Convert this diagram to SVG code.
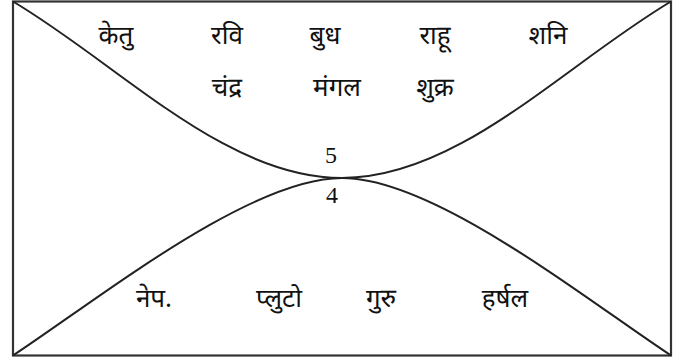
<svg xmlns="http://www.w3.org/2000/svg" width="686" height="361" viewBox="0 0 686 361">
<style>
.frame{fill:#fff;stroke:#333;stroke-width:2.2}
.curve{fill:none;stroke:#222;stroke-width:2}
.dev{font-family:"Noto Sans Devanagari","Lohit Devanagari","Noto Sans","Liberation Sans",sans-serif;font-size:26px;fill:#111;text-anchor:middle}
.num{font-family:"Liberation Serif",serif;font-size:24px;fill:#111;text-anchor:middle}
</style>
<rect x="0" y="0" width="686" height="361" fill="#fff"/>
<rect class="frame" x="13" y="1.5" width="658" height="354"/>
<g id="connectors">
<path class="curve" d="M13,1.5 C120,65 225,178 342,178 C459,178 564,65 671,1.5"/>
<path class="curve" d="M13,355.5 C100,298 250,178 342,178 C434,178 584,298 671,355.5"/>
</g>
<g id="house5">
<text class="dev" x="116" y="44">केतु</text>
<text class="dev" x="227" y="44">रवि</text>
<text class="dev" x="325" y="44">बुध</text>
<text class="dev" x="435" y="44">राहू</text>
<text class="dev" x="548" y="44">शनि</text>
<text class="dev" x="227" y="96">चंद्र</text>
<text class="dev" x="337" y="96">मंगल</text>
<text class="dev" x="435" y="96">शुक्र</text>
<text class="num" x="331" y="163">5</text>
</g>
<g id="house4">
<text class="num" x="332" y="203">4</text>
<text class="dev" x="154" y="307">नेप.</text>
<text class="dev" x="279" y="307">प्लुटो</text>
<text class="dev" x="381" y="307">गुरु</text>
<text class="dev" x="505" y="307">हर्षल</text>
</g>
</svg>
